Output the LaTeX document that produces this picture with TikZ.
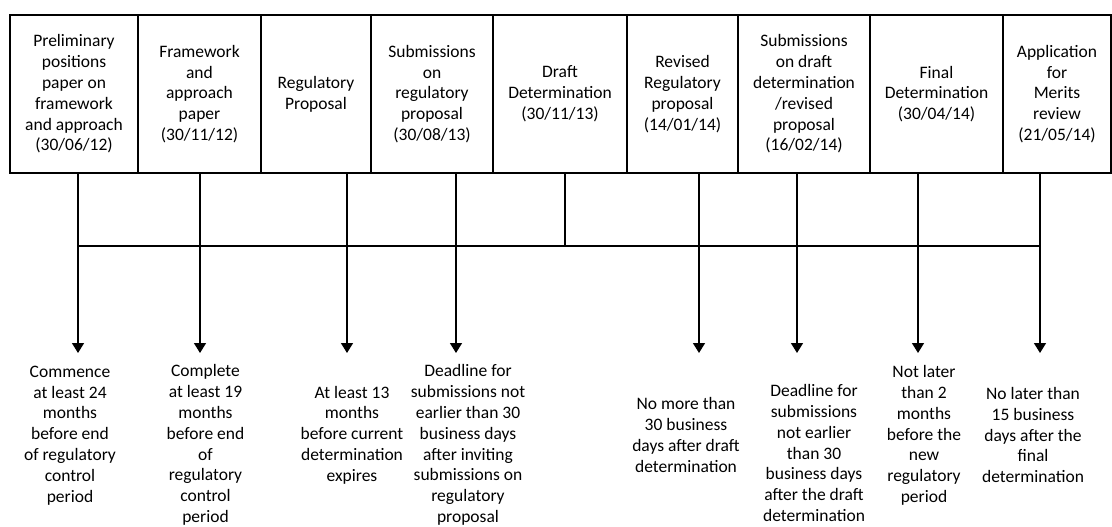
\documentclass[tikz,border=0pt]{standalone}
\usepackage{fontspec}
\setmainfont{Carlito}
\usepackage{tikz}
\usetikzlibrary{arrows.meta}
\usetikzlibrary{calc}

\begin{document}
\begin{tikzpicture}[x=1pt,y=-1pt,
    box/.style={draw,line width=1.5pt,minimum height=158pt,inner sep=0,align=center,font=\fontsize{17.5}{20.8}\selectfont},
    note/.style={align=center,inner sep=0,font=\fontsize{17.5}{20.8}\selectfont},
    link/.style={line width=1.5pt},
    arr/.style={line width=1.5pt,-{Triangle[width=12pt,length=10pt]}}]
    \useasboundingbox (0,0) rectangle (1112,527);

    % stages
    \node[box,minimum width=128pt] (b1) at (74,94) {Preliminary\\positions\\paper on\\framework\\and approach\\(30/06/12)};
    \node[box,minimum width=123pt] (b2) at (199.5,94) {Framework\\and\\approach\\paper\\(30/11/12)};
    \node[box,minimum width=110pt] (b3) at (316,94) {Regulatory\\Proposal};
    \node[box,minimum width=122pt] (b4) at (432,94) {Submissions\\on\\regulatory\\proposal\\(30/08/13)};
    \node[box,minimum width=134pt] (b5) at (560,94) {Draft\\Determination\\(30/11/13)};
    \node[box,minimum width=111pt] (b6) at (682.5,94) {Revised\\Regulatory\\proposal\\(14/01/14)};
    \node[box,minimum width=132pt] (b7) at (804,94) {Submissions\\on draft\\determination\\/revised\\proposal\\(16/02/14)};
    \node[box,minimum width=133pt] (b8) at (936.5,94) {Final\\Determination\\(30/04/14)};
    \node[box,minimum width=108pt] (b9) at (1057,94) {Application\\for\\Merits\\review\\(21/05/14)};

    % arrow ends
    \coordinate (bus) at (0,246);
    \coordinate (t1) at (78,353);
    \coordinate (t2) at (200,353);
    \coordinate (t3) at (347,353);
    \coordinate (t4) at (456,353);
    \coordinate (t5) at (565,246);
    \coordinate (t6) at (699,353);
    \coordinate (t7) at (797,353);
    \coordinate (t8) at (918,353);
    \coordinate (t9) at (1040,353);

    \draw[link] (t1 |- bus) -- (t9 |- bus);
    \draw[arr] (t1 |- b1.south) -- (t1);
    \draw[arr] (t2 |- b2.south) -- (t2);
    \draw[arr] (t3 |- b3.south) -- (t3);
    \draw[arr] (t4 |- b4.south) -- (t4);
    \draw[link] (t5 |- b5.south) -- (t5);
    \draw[arr] (t6 |- b6.south) -- (t6);
    \draw[arr] (t7 |- b7.south) -- (t7);
    \draw[arr] (t8 |- b8.south) -- (t8);
    \draw[arr] (t9 |- b9.south) -- (t9);

    % time limits
    \node[note] (n1) at (70,435.5) {Commence\\at least 24\\months\\before end\\of regulatory\\control\\period};
    \node[note] (n2) at (205.5,445) {Complete\\at least 19\\months\\before end\\of\\regulatory\\control\\period};
    \node[note] (n3) at (352,435) {At least 13\\months\\before current\\determination\\expires};
    \node[note] (n4) at (468,445) {Deadline for\\submissions not\\earlier than 30\\business days\\after inviting\\submissions on\\regulatory\\proposal};
    \node[note] (n6) at (686,435) {No more than\\30 business\\days after draft\\determination};
    \node[note] (n7) at (814,453) {Deadline for\\submissions\\not earlier\\than 30\\business days\\after the draft\\determination};
    \node[note] (n8) at (924,435.5) {Not later\\than 2\\months\\before the\\new\\regulatory\\period};
    \node[note] (n9) at (1033,435) {No later than\\15 business\\days after the\\final\\determination};
\end{tikzpicture}
\end{document}
